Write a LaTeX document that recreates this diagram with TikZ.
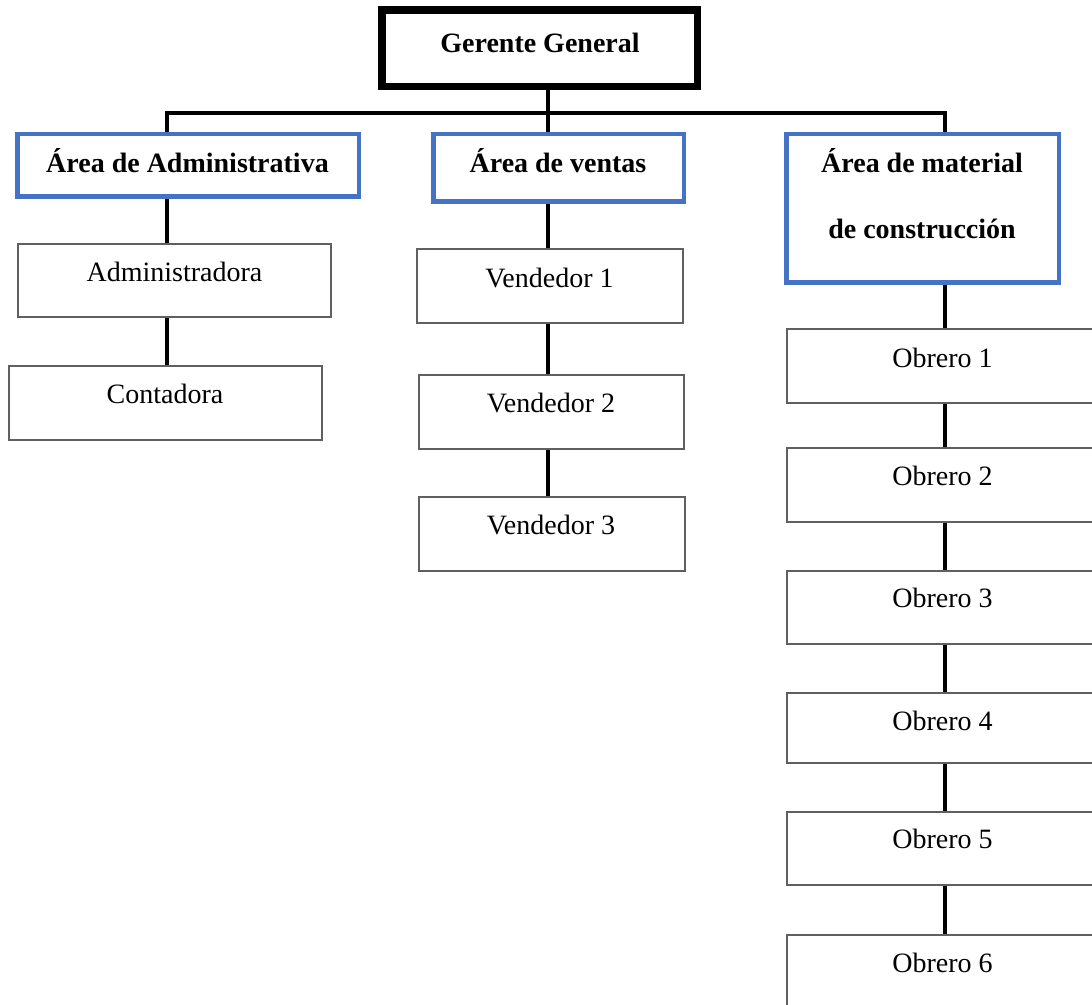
\documentclass[tikz,border=0pt]{standalone}
\usepackage{fontspec}
\setmainfont{Liberation Serif}
\definecolor{areablue}{HTML}{4472C4}
\definecolor{boxgray}{HTML}{606060}
\tikzset{
  conn/.style={line width=4pt, draw=black, line join=miter},
  topbox/.style={draw=black, line width=5pt, fill=white, inner sep=0pt},
  areabox/.style={draw=areablue, line width=3pt, fill=white, inner sep=0pt},
  staffbox/.style={draw=boxgray, line width=2.2pt, fill=white, inner sep=0pt},
  boldtxt/.style={font=\fontsize{28}{28}\selectfont\bfseries, inner sep=0pt, anchor=base},
  regtxt/.style={font=\fontsize{28}{28}\selectfont, inner sep=0pt, anchor=base}
}
\begin{document}
\begin{tikzpicture}[x=1pt,y=-1pt]
\useasboundingbox (0,0) rectangle (1092,1004);
\fill[white] (0,0) rectangle (1092,1004);
\clip (0,0) rectangle (1092,1004);

% boxes (geometry)
\node[topbox, minimum width=313pt, minimum height=74pt] (gg) at (539.5,48) {};
\node[areabox, minimum width=340pt, minimum height=61pt] (aa) at (188,165) {};
\node[areabox, minimum width=249pt, minimum height=66pt] (av) at (558.5,167.5) {};
\node[areabox, minimum width=271pt, minimum height=147pt] (am) at (922.5,208) {};
\node[staffbox, minimum width=313pt, minimum height=73pt] (adm) at (174.5,280.5) {};
\node[staffbox, minimum width=313pt, minimum height=74pt] (con) at (165.5,403) {};
\node[staffbox, minimum width=266pt, minimum height=74pt] (v1) at (550,286) {};
\node[staffbox, minimum width=265pt, minimum height=74pt] (v2) at (551.5,412) {};
\node[staffbox, minimum width=266pt, minimum height=74pt] (v3) at (552,534) {};
\node[staffbox, minimum width=311pt, minimum height=74pt] (o1) at (942.5,366) {};
\node[staffbox, minimum width=311pt, minimum height=74pt] (o2) at (942.5,485) {};
\node[staffbox, minimum width=311pt, minimum height=73pt] (o3) at (942.5,607.5) {};
\node[staffbox, minimum width=311pt, minimum height=70pt] (o4) at (942.5,728) {};
\node[staffbox, minimum width=311pt, minimum height=73pt] (o5) at (942.5,848.5) {};
\node[staffbox, minimum width=311pt, minimum height=74pt] (o6) at (942.5,972) {};

% junctions on the bus
\coordinate (j1) at (167,113);
\coordinate (j2) at (548,113);
\coordinate (j3) at (945,113);

% connectors
\draw[conn] (j1 |- aa.north) -- (j1) -- (j3) -- (j3 |- am.north);
\draw[conn] (j2 |- gg.south) -- (j2 |- av.north);
\draw[conn] (j1 |- aa.south) -- (j1 |- adm.north);
\draw[conn] (j1 |- adm.south) -- (j1 |- con.north);
\draw[conn] (j2 |- av.south) -- (j2 |- v1.north);
\draw[conn] (j2 |- v1.south) -- (j2 |- v2.north);
\draw[conn] (j2 |- v2.south) -- (j2 |- v3.north);
\draw[conn] (j3 |- am.south) -- (j3 |- o1.north);
\draw[conn] (j3 |- o1.south) -- (j3 |- o2.north);
\draw[conn] (j3 |- o2.south) -- (j3 |- o3.north);
\draw[conn] (j3 |- o3.south) -- (j3 |- o4.north);
\draw[conn] (j3 |- o4.south) -- (j3 |- o5.north);
\draw[conn] (j3 |- o5.south) -- (j3 |- o6.north);

% redraw box borders on top of connectors
\draw[draw=black, line width=5pt] (gg.south west) rectangle (gg.north east);
\draw[draw=areablue, line width=3pt] (aa.south west) rectangle (aa.north east);
\draw[draw=areablue, line width=3pt] (av.south west) rectangle (av.north east);
\draw[draw=areablue, line width=3pt] (am.south west) rectangle (am.north east);

% texts
\node[boldtxt] (ggt) at (540,52) {Gerente General};
\node[boldtxt] (aat) at (187.5,172) {Área de Administrativa};
\node[boldtxt] (avt) at (558,172) {Área de ventas};
\node[boldtxt] (amt1) at (922,172) {Área de material};
\node[boldtxt] (amt2) at (922,238) {de construcción};
\node[regtxt] (admt) at (174.5,281) {Administradora};
\node[regtxt] (cont) at (165,403) {Contadora};
\node[regtxt] (v1t) at (549.5,287) {Vendedor 1};
\node[regtxt] (v2t) at (551,412) {Vendedor 2};
\node[regtxt] (v3t) at (551,534) {Vendedor 3};
\node[regtxt] (o1t) at (942.5,367) {Obrero 1};
\node[regtxt] (o2t) at (942.5,485) {Obrero 2};
\node[regtxt] (o3t) at (942.5,607) {Obrero 3};
\node[regtxt] (o4t) at (942.5,730) {Obrero 4};
\node[regtxt] (o5t) at (942.5,848) {Obrero 5};
\node[regtxt] (o6t) at (942.5,972) {Obrero 6};
\end{tikzpicture}
\end{document}
